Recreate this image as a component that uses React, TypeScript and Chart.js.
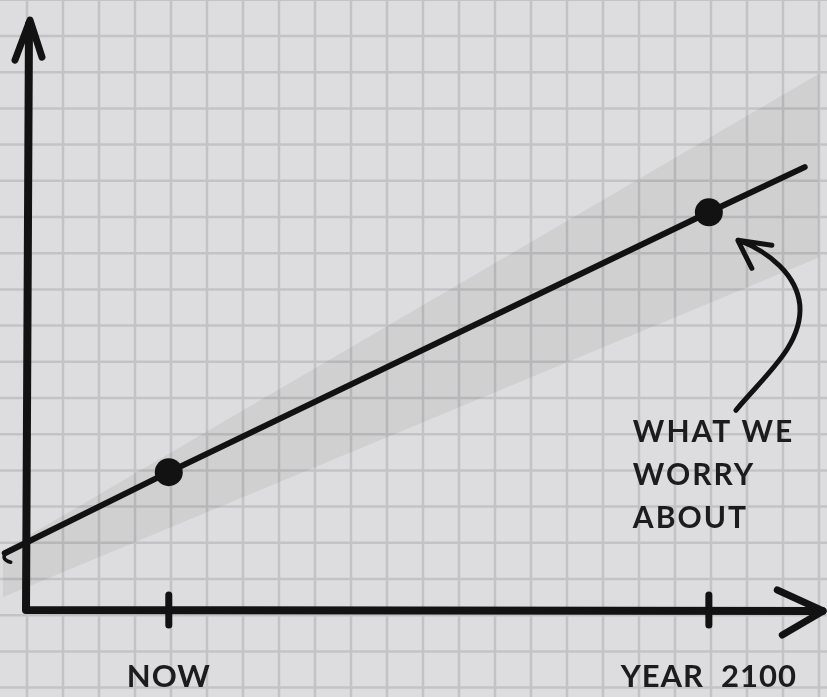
import { useEffect, useRef } from "react";
import { Chart, registerables } from "chart.js";

Chart.register(...registerables);

// ---- data ----
const X_TICKS = [2020, 2100];
const X_TICK_LABELS = ["NOW", "YEAR  2100"];
const LINE_YEARS = [1995.7, 2020, 2100, 2114.2];
const LINE_VALUES = [0.93, 2.26, 6.52, 7.26];
const MARKED_YEARS = [2020, 2100];
const BAND_YEARS = [1995.4, 2116.3];
const BAND_UPPER = [0.97, 8.79];
const BAND_LOWER = [0.21, 5.78];
const ANNOTATION = ["WHAT WE", "WORRY", "ABOUT"];
const ANNOTATED_YEAR = 2100;
const AXIS_ORIGIN_YEAR = 1998.85;
const AXIS_END_YEAR = 2116.8;
const AXIS_TOP_VALUE = 9.67;

const INK = "#121212";
const TEXT = "#1c1c1c";
const PAPER = "#dddddf";
const GRID = "#c3c3c6";
const FONT = "Lato, 'Open Sans', sans-serif";

const paperPlugin = {
  id: "paper",
  beforeDraw(chart: any) {
    const { ctx, width, height } = chart;
    ctx.save();
    ctx.fillStyle = PAPER;
    ctx.fillRect(0, 0, width, height);
    ctx.strokeStyle = GRID;
    ctx.lineWidth = 2.5;
    ctx.beginPath();
    for (let x = 27; x < width + 1; x += 36) {
      ctx.moveTo(x, 0);
      ctx.lineTo(x, height);
    }
    for (let y = -0.2; y < height + 1; y += 36.2) {
      ctx.moveTo(0, y);
      ctx.lineTo(width, y);
    }
    ctx.stroke();
    ctx.restore();
  },
  afterDraw(chart: any) {
    const { ctx } = chart;
    const xs = chart.scales.x;
    const ys = chart.scales.y;
    const ox = xs.getPixelForValue(AXIS_ORIGIN_YEAR);
    const oy = ys.getPixelForValue(0);
    const ex = xs.getPixelForValue(AXIS_END_YEAR);
    const ty = ys.getPixelForValue(AXIS_TOP_VALUE);
    ctx.save();
    ctx.strokeStyle = INK;
    ctx.lineCap = "round";
    ctx.lineJoin = "round";

    // axes
    ctx.lineWidth = 8;
    ctx.beginPath();
    ctx.moveTo(ox + 3, ty + 4);
    ctx.lineTo(ox, oy);
    ctx.lineTo(ex, oy + 1);
    ctx.stroke();
    ctx.lineWidth = 7;
    ctx.beginPath();
    ctx.moveTo(ox - 11, ty + 40);
    ctx.lineTo(ox + 4, ty);
    ctx.lineTo(ox + 16, ty + 37);
    ctx.moveTo(ex - 45, oy - 20);
    ctx.lineTo(ex + 1, oy + 1);
    ctx.lineTo(ex - 40, oy + 25);
    ctx.stroke();

    // tick marks
    ctx.lineWidth = 7;
    ctx.beginPath();
    X_TICKS.forEach((t) => {
      const px = xs.getPixelForValue(t);
      ctx.moveTo(px, oy - 15);
      ctx.lineTo(px, oy + 15);
    });
    ctx.stroke();

    // tick labels
    ctx.fillStyle = TEXT;
    ctx.font = `bold 31px ${FONT}`;
    ctx.textAlign = "center";
    ctx.textBaseline = "alphabetic";
    (ctx as any).letterSpacing = "1px";
    X_TICKS.forEach((t, i) => {
      ctx.fillText(X_TICK_LABELS[i], xs.getPixelForValue(t), oy + 77);
    });

    // hook at the start of the line
    const sx = xs.getPixelForValue(LINE_YEARS[0]);
    const sy = ys.getPixelForValue(LINE_VALUES[0]);
    ctx.lineWidth = 3.5;
    ctx.beginPath();
    ctx.moveTo(sx + 1, sy);
    ctx.quadraticCurveTo(sx - 4, sy + 6, sx + 6, sy + 9);
    ctx.stroke();

    // annotation arrow, anchored to the annotated point
    const idx = LINE_YEARS.indexOf(ANNOTATED_YEAR);
    const px = xs.getPixelForValue(LINE_YEARS[idx]);
    const py = ys.getPixelForValue(LINE_VALUES[idx]);
    ctx.lineWidth = 5;
    ctx.beginPath();
    ctx.moveTo(px + 27, py + 198);
    ctx.bezierCurveTo(px + 56, py + 163, px + 94, py + 133, px + 91, py + 93);
    ctx.bezierCurveTo(px + 88, py + 63, px + 61, py + 40, px + 30, py + 28);
    ctx.moveTo(px + 63, py + 33);
    ctx.lineTo(px + 29, py + 28);
    ctx.lineTo(px + 43, py + 56);
    ctx.stroke();

    // annotation text
    ctx.textAlign = "left";
    ctx.font = `bold 30px ${FONT}`;
    (ctx as any).letterSpacing = "2px";
    ANNOTATION.forEach((line, i) => {
      ctx.fillText(line, px - 76, py + 230 + i * 43);
    });
    ctx.restore();
  },
};

export default function App() {
  const ref = useRef<HTMLCanvasElement>(null);
  useEffect(() => {
    document.body.style.margin = "0";
    document.body.style.overflow = "hidden";
    const lineData = LINE_YEARS.map((x, i) => ({ x, y: LINE_VALUES[i] }));
    const upper = BAND_YEARS.map((x, i) => ({ x, y: BAND_UPPER[i] }));
    const lower = BAND_YEARS.map((x, i) => ({ x, y: BAND_LOWER[i] }));
    const chart = new Chart(ref.current!, {
      type: "line",
      data: {
        datasets: [
          {
            label: "projection",
            data: lineData,
            borderColor: INK,
            borderWidth: 6,
            tension: 0,
            fill: false,
            pointRadius: lineData.map((p) => (MARKED_YEARS.includes(p.x) ? 14 : 0)),
            pointBackgroundColor: INK,
            pointBorderWidth: 0,
            borderCapStyle: "round",
          },
          {
            label: "upper",
            data: upper,
            borderWidth: 0,
            pointRadius: 0,
            backgroundColor: "rgba(0,0,0,0.06)",
            fill: "+1",
          },
          {
            label: "lower",
            data: lower,
            borderWidth: 0,
            pointRadius: 0,
            fill: false,
          },
        ],
      },
      options: {
        animation: false,
        responsive: false,
        events: [],
        layout: { padding: 0 },
        plugins: { legend: { display: false }, tooltip: { enabled: false } },
        scales: {
          x: { type: "linear", min: 1995, max: 2117.5, display: false },
          y: { type: "linear", min: -1.426, max: 10, display: false },
        },
      },
      plugins: [paperPlugin],
    });
    return () => chart.destroy();
  }, []);
  return (
    <div style={{ width: 827, height: 697, overflow: "hidden" }}>
      <canvas ref={ref} width={827} height={697} style={{ display: "block" }} />
    </div>
  );
}
